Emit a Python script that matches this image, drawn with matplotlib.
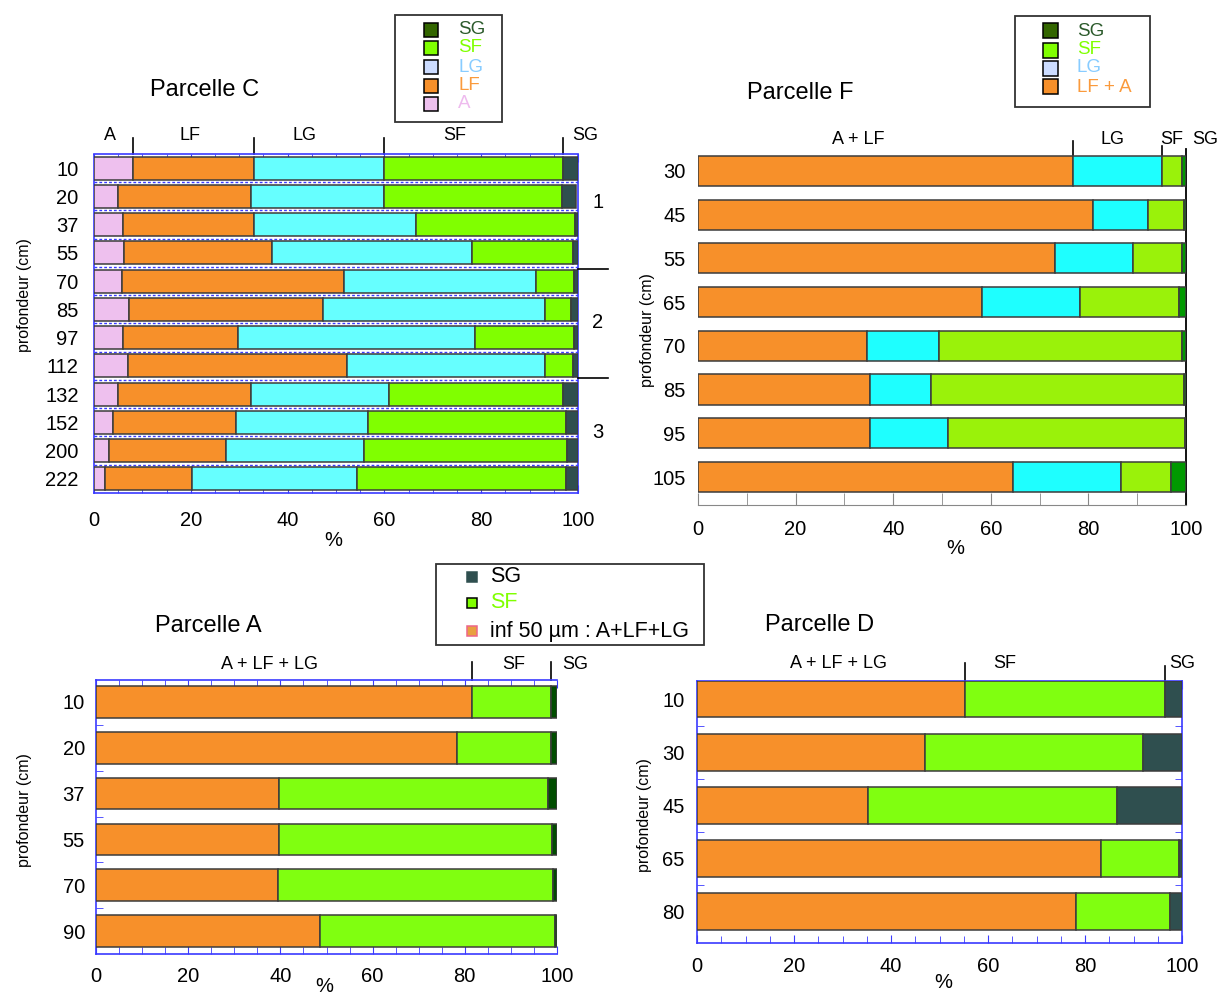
import matplotlib
matplotlib.use('Agg')
import matplotlib.pyplot as plt
import numpy as np
from matplotlib.patches import Rectangle
from matplotlib.lines import Line2D

plt.rcParams['font.family'] = ['Liberation Sans', 'DejaVu Sans']

# ---------------- data ----------------
depth_C = ['10', '20', '37', '55', '70', '85', '97', '112', '132', '152', '200', '222']
C_A = [8.0, 4.9, 6.0, 6.2, 5.8, 7.3, 6.0, 7.1, 4.9, 4.0, 3.1, 2.2]
C_LF = [25.0, 27.6, 27.0, 30.5, 45.8, 40.1, 23.7, 45.1, 27.6, 25.4, 24.2, 18.1]
C_LG = [27.0, 27.4, 33.5, 41.3, 39.8, 45.7, 49.0, 41.0, 28.4, 27.2, 28.4, 34.0]
C_SF = [37.0, 36.8, 32.9, 20.9, 7.8, 5.4, 20.5, 5.8, 36.1, 40.9, 42.0, 43.2]
C_SG = [3.0, 2.9, 0.6, 1.1, 0.8, 1.5, 0.8, 1.0, 3.0, 2.5, 2.3, 2.5]
C_top = ['A', 'LF', 'LG', 'SF', 'SG']
C_zones = ['1', '2', '3']

depth_F = ['30', '45', '55', '65', '70', '85', '95', '105']
F_ALF = [76.9, 80.9, 73.1, 58.1, 34.6, 35.3, 35.2, 64.6]
F_LG = [18.1, 11.3, 16.1, 20.2, 14.7, 12.4, 16.0, 22.0]
F_SF = [4.2, 7.3, 10.0, 20.2, 49.9, 51.8, 48.6, 10.3]
F_SG = [0.8, 0.5, 0.8, 1.5, 0.8, 0.5, 0.2, 3.1]
F_top = ['A + LF', 'LG', 'SF', 'SG']

depth_A = ['10', '20', '37', '55', '70', '90']
A_inf = [81.5, 78.3, 39.7, 39.7, 39.4, 48.5]
A_SF = [17.1, 20.4, 58.4, 59.2, 59.8, 51.1]
A_SG = [1.4, 1.3, 1.9, 1.1, 0.8, 0.4]

depth_D = ['10', '30', '45', '65', '80']
D_inf = [55.2, 47.1, 35.2, 83.2, 78.2]
D_SF = [41.2, 44.9, 51.4, 16.2, 19.4]
D_SG = [3.6, 8.0, 13.4, 0.6, 2.4]
AD_top = ['A + LF + LG', 'SF', 'SG']

leg_C_labels = ['SG', 'SF', 'LG', 'LF', 'A']
leg_F_labels = ['SG', 'SF', 'LG', 'LF + A']
leg_AD_labels = ['SG', 'SF', 'inf 50 µm : A+LF+LG']

xticks = [0, 20, 40, 60, 80, 100]

# ---------------- figure ----------------
W, H = 1220, 996
fig = plt.figure(figsize=(12.2, 9.96), dpi=100)

TICK_FS = 14.5
TITLE_FS = 17
TOP_FS = 13


def fx(px):
    return px / W


def fy(py):
    return 1 - py / H


def add_axes(l, t, r, b):
    return fig.add_axes([fx(l), fy(b), (r - l) / W, (b - t) / H])


def stacked(ax, depths, comps, colors, height):
    y = np.arange(len(depths))
    left = np.zeros(len(depths))
    for vals, c in zip(comps, colors):
        v = np.array(vals, dtype=float)
        ax.barh(y, v, left=left, height=height, color=c,
                edgecolor='#3c3c3c', linewidth=1.1, zorder=3)
        left += v
    ax.set_yticks(y, depths)
    ax.set_xlim(0, 100)
    ax.set_xticks(xticks, [str(t) for t in xticks])


def top_labels(ax, ax_top_px, ax_h_px, labels, xs, label_py, bounds, line_spans):
    for lab, x in zip(labels, xs):
        ax.text(x, 1 + (ax_top_px - label_py) / ax_h_px, lab, transform=ax.get_xaxis_transform(),
                ha='center', va='center', fontsize=TOP_FS, clip_on=False)
    for b, (p0, p1) in zip(bounds, line_spans):
        ax.plot([b, b], [1 + (ax_top_px - p0) / ax_h_px, 1 + (ax_top_px - p1) / ax_h_px],
                transform=ax.get_xaxis_transform(), color='black', lw=1.2, clip_on=False)


def legend_box(x0, y0, x1, y1, entries, patch_x, ps, text_x, ys, fs):
    fig.patches.append(Rectangle((fx(x0), fy(y1)), (x1 - x0) / W, (y1 - y0) / H,
                                 transform=fig.transFigure, fill=False,
                                 edgecolor='#333333', lw=1.3))
    for (label, fc, ec, tc), y in zip(entries, ys):
        fig.patches.append(Rectangle((fx(patch_x), fy(y + ps / 2)), ps / W, ps / H,
                                     transform=fig.transFigure, facecolor=fc,
                                     edgecolor=ec, lw=1.1))
        fig.text(fx(text_x), fy(y), label, color=tc, fontsize=fs, va='center', ha='left')


BLUE = '#3a3aff'
ORANGE = '#f7902a'

# ---------------- Parcelle C ----------------
axC = add_axes(94, 154, 578, 493)
stacked(axC, depth_C, [C_A, C_LF, C_LG, C_SF, C_SG],
        ['#eec0ee', ORANGE, '#66ffff', '#80ff00', '#2f4f4f'], 0.82)
axC.set_ylim(11.5, -0.5)
for yy in np.arange(0.5, len(depth_C) - 1, 1.0):
    axC.axhline(yy, color=BLUE, lw=1.0, ls=(0, (2, 1.5)), zorder=2)
for s in axC.spines.values():
    s.set_color(BLUE)
    s.set_linestyle((0, (3, 1)))
    s.set_linewidth(1.2)
axC.set_xticks(np.arange(0, 101, 5), minor=True)
axC.tick_params(axis='x', which='both', direction='in', top=True, color=BLUE,
                labelsize=TICK_FS, pad=13)
axC.tick_params(axis='x', which='major', length=6)
axC.tick_params(axis='x', which='minor', length=4)
axC.tick_params(axis='y', direction='in', color=BLUE, length=5, labelsize=TICK_FS, pad=11)
bC = np.cumsum([C_A[0], C_LF[0], C_LG[0], C_SF[0]])
top_labels(axC, 154, 339, C_top, [3.3, 19.8, 43.4, 74.6, 101.5], 136, bC,
           [(154, 138)] * 4)
fig.text(fx(205), fy(90), 'Parcelle C', fontsize=TITLE_FS, ha='center', va='center')
fig.text(fx(25), fy(295), 'profondeur (cm)', rotation=90, fontsize=11.5, ha='center', va='center')
fig.text(fx(333), fy(540), '%', fontsize=14.5, ha='center', va='center')
for lab, py in zip(C_zones, [202, 322, 432]):
    fig.text(fx(598), fy(py), lab, fontsize=14.5, ha='center', va='center')
for py in [269, 378]:
    fig.add_artist(Line2D([fx(578), fx(608)], [fy(py), fy(py)], color='black', lw=1.2))
legend_box(395, 15, 502, 122,
           [(leg_C_labels[0], '#336600', 'black', '#2b5a2b'),
            (leg_C_labels[1], '#80ff00', 'black', '#80ff00'),
            (leg_C_labels[2], '#ccdcff', 'black', '#88ccff'),
            (leg_C_labels[3], ORANGE, 'black', '#fa9a3c'),
            (leg_C_labels[4], '#eec0ee', 'black', '#eebbee')],
           424, 14, 458, [30, 48, 67, 86, 104], 13.5)

# ---------------- Parcelle F ----------------
axF = add_axes(698, 149, 1186, 505)
stacked(axF, depth_F, [F_ALF, F_LG, F_SF, F_SG],
        [ORANGE, '#1effff', '#9af20a', '#009900'], 0.69)
axF.set_ylim(7.64, -0.5)
axF.spines['top'].set_visible(False)
axF.spines['left'].set_visible(False)
axF.spines['right'].set_color('black')
axF.spines['right'].set_linewidth(1.3)
axF.spines['bottom'].set_color('#888888')
axF.set_xticks(np.arange(0, 101, 10), minor=True)
axF.tick_params(axis='x', which='both', direction='in', color='#888888', length=9,
                labelsize=TICK_FS, pad=11)
axF.tick_params(axis='y', length=0, labelsize=TICK_FS, pad=9)
bF = np.cumsum([F_ALF[0], F_LG[0]])
top_labels(axF, 149, 356, F_top, [32.8, 85.0, 97.1, 104.0], 139, bF,
           [(158, 141), (161, 146)])
fig.text(fx(800), fy(93), 'Parcelle F', fontsize=TITLE_FS, ha='center', va='center')
fig.text(fx(648), fy(330), 'profondeur (cm)', rotation=90, fontsize=11.5, ha='center', va='center')
fig.text(fx(955), fy(549), '%', fontsize=14.5, ha='center', va='center')
legend_box(1015, 16, 1150, 107,
           [(leg_F_labels[0], '#336600', 'black', '#2b5a2b'),
            (leg_F_labels[1], '#80ff00', 'black', '#80ff00'),
            (leg_F_labels[2], '#ccdcff', 'black', '#88ccff'),
            (leg_F_labels[3], ORANGE, 'black', '#fa9a3c')],
           1043, 15, 1077, [31, 50, 68, 87], 13.5)

# ---------------- Parcelle A ----------------
axA = add_axes(96, 680, 557, 954)
stacked(axA, depth_A, [A_inf, A_SF, A_SG], [ORANGE, '#80ff10', '#004d00'], 0.69)
axA.set_ylim(5.5, -0.48)
for s in axA.spines.values():
    s.set_color(BLUE)
    s.set_linewidth(1.2)
axA.spines['right'].set_visible(False)
axA.set_xticks(np.arange(0, 101, 5), minor=True)
axA.tick_params(axis='x', which='both', direction='in', top=True, color=BLUE,
                labelsize=TICK_FS, pad=9)
axA.tick_params(axis='x', which='major', length=6)
axA.tick_params(axis='x', which='minor', length=5)
axA.set_yticks(np.arange(0.5, len(depth_A) - 1, 1.0), minor=True)
axA.tick_params(axis='y', which='minor', direction='in', color=BLUE, length=5)
axA.tick_params(axis='y', which='major', length=0, labelsize=TICK_FS, pad=8)
bA = [A_inf[0], A_inf[0] + A_SF[0]]
top_labels(axA, 680, 274, AD_top, [37.7, 90.5, 104.0], 664, bA,
           [(680, 662), (680, 662)])
fig.text(fx(208), fy(626), 'Parcelle A', fontsize=TITLE_FS, ha='center', va='center')
fig.text(fx(25), fy(810), 'profondeur (cm)', rotation=90, fontsize=11.5, ha='center', va='center')
fig.text(fx(324), fy(986), '%', fontsize=14.5, ha='center', va='center')

# ---------------- Parcelle D ----------------
axD = add_axes(697, 681, 1182, 943)
stacked(axD, depth_D, [D_inf, D_SF, D_SG], [ORANGE, '#80ff10', '#2f4f4f'], 0.69)
axD.set_ylim(4.59, -0.34)
for s in axD.spines.values():
    s.set_color(BLUE)
    s.set_linewidth(1.2)
axD.set_xticks(np.arange(0, 101, 5), minor=True)
axD.tick_params(axis='x', which='both', direction='in', top=True, color=BLUE,
                labelsize=TICK_FS, pad=10)
axD.tick_params(axis='x', which='major', length=6)
axD.tick_params(axis='x', which='minor', length=5)
axD.set_yticks(np.arange(0.5, len(depth_D) - 1, 1.0), minor=True)
axD.tick_params(axis='y', which='minor', direction='in', color=BLUE, length=5,
                right=True)
axD.tick_params(axis='y', which='major', length=0, labelsize=TICK_FS, pad=9)
bD = [D_inf[0], D_inf[0] + D_SF[0]]
top_labels(axD, 681, 262, AD_top, [29.1, 63.5, 100.0], 663, bD,
           [(681, 663), (681, 666)])
fig.text(fx(820), fy(625), 'Parcelle D', fontsize=TITLE_FS, ha='center', va='center')
fig.text(fx(645), fy(815), 'profondeur (cm)', rotation=90, fontsize=11.5, ha='center', va='center')
fig.text(fx(943), fy(982), '%', fontsize=14.5, ha='center', va='center')

legend_box(436, 564, 704, 645,
           [(leg_AD_labels[0], '#2f4f4f', '#2f4f4f', 'black'),
            (leg_AD_labels[1], '#80ff00', 'black', '#80ff00'),
            (leg_AD_labels[2], '#e8a040', '#ee6688', 'black')],
           467, 10, 490, [577, 603, 631], 15.5)

fig.savefig('out.png', dpi=100)
